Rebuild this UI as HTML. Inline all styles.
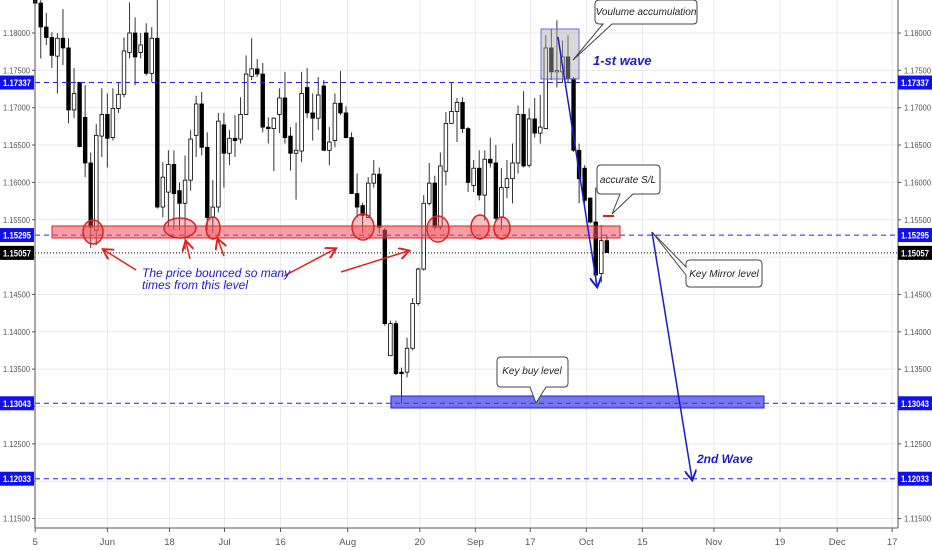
<!DOCTYPE html>
<html><head><meta charset="utf-8">
<style>
html,body{margin:0;padding:0;background:#fff;}
svg{display:block;font-family:"Liberation Sans",sans-serif;}
</style></head>
<body>
<svg id="chart" width="932" height="550" viewBox="0 0 932 550" xmlns="http://www.w3.org/2000/svg">
<defs>
<marker id="ab" markerWidth="8" markerHeight="8" refX="6" refY="4" orient="auto"><path d="M0,0 L7,4 L0,8" fill="none" stroke="#1a1ad0" stroke-width="1.3"/></marker>
<marker id="ar" markerWidth="8" markerHeight="8" refX="6" refY="4" orient="auto"><path d="M0,0 L7,4 L0,8" fill="none" stroke="#e02020" stroke-width="1.3"/></marker>
</defs>
<g id="grid"></g>
<g id="candles"></g>
<g id="annot"></g>
<g id="axes"></g>
</svg>
<script>
const opens=[1.1850,1.1840,1.1808,1.1794,1.1769,1.1793,1.1780,1.1697,1.1734,1.1687,1.1626,1.1536,1.1662,1.1691,1.1660,1.1699,1.1718,1.1774,1.1800,1.1774,1.1800,1.1746,1.1793,1.1567,1.1587,1.1624,1.1589,1.1572,1.1603,1.1663,1.1705,1.1647,1.1553,1.1567,1.1677,1.1639,1.1659,1.1658,1.1691,1.1742,1.1752,1.1745,1.1674,1.1672,1.1691,1.1713,1.1662,1.1639,1.1642,1.1727,1.1693,1.1686,1.1729,1.1643,1.1656,1.1706,1.1693,1.1660,1.1585,1.1569,1.1553,1.1599,1.1611,1.1536,1.1368,1.1411,1.1346,1.1346,1.1378,1.1438,1.1484,1.1572,1.1599,1.1540,1.1615,1.1679,1.1695,1.1707,1.1672,1.1596,1.1619,1.1583,1.1631,1.1626,1.1553,1.1593,1.1605,1.1626,1.1691,1.1623,1.1685,1.1666,1.1672,1.1780,1.1748,1.1748,1.1768,1.1739,1.1643,1.1619,1.1579,1.1547,1.1478,1.1522];
const highs=[1.1855,1.1844,1.1827,1.1801,1.1800,1.1832,1.1793,1.1753,1.1734,1.1730,1.1640,1.1678,1.1726,1.1719,1.1726,1.1734,1.1794,1.1841,1.1821,1.1800,1.1813,1.1808,1.1855,1.1627,1.1643,1.1643,1.1600,1.1636,1.1670,1.1716,1.1721,1.1667,1.1603,1.1693,1.1693,1.1670,1.1690,1.1714,1.1770,1.1793,1.1765,1.1760,1.1687,1.1687,1.1726,1.1748,1.1674,1.1680,1.1748,1.1753,1.1719,1.1741,1.1737,1.1674,1.1719,1.1749,1.1702,1.1667,1.1612,1.1573,1.1607,1.1630,1.1620,1.1539,1.1415,1.1415,1.1352,1.1392,1.1445,1.1486,1.1583,1.1626,1.1609,1.1640,1.1694,1.1734,1.1713,1.1714,1.1674,1.1630,1.1643,1.1643,1.1660,1.1650,1.1619,1.1630,1.1652,1.1703,1.1722,1.1699,1.1713,1.1717,1.1797,1.1805,1.1817,1.1790,1.1797,1.1741,1.1652,1.1623,1.1580,1.1593,1.1543,1.1529];
const lows=[1.1838,1.1766,1.1784,1.1753,1.1719,1.1757,1.1679,1.1686,1.1647,1.1607,1.1512,1.1516,1.1634,1.1620,1.1656,1.1693,1.1714,1.1766,1.1730,1.1766,1.1743,1.1734,1.1565,1.1553,1.1540,1.1536,1.1536,1.1510,1.1589,1.1634,1.1636,1.1536,1.1532,1.1560,1.1593,1.1623,1.1634,1.1652,1.1690,1.1737,1.1741,1.1667,1.1652,1.1615,1.1666,1.1652,1.1616,1.1577,1.1627,1.1686,1.1656,1.1670,1.1642,1.1623,1.1647,1.1690,1.1659,1.1585,1.1553,1.1532,1.1553,1.1593,1.1532,1.1408,1.1368,1.1342,1.1304,1.1339,1.1375,1.1435,1.1482,1.1569,1.1536,1.1536,1.1596,1.1679,1.1654,1.1666,1.1587,1.1587,1.1576,1.1549,1.1620,1.1549,1.1536,1.1579,1.1572,1.1612,1.1620,1.1620,1.1660,1.1652,1.1671,1.1737,1.1727,1.1733,1.1733,1.1641,1.1572,1.1572,1.1545,1.1466,1.1466,1.1506];
const closes=[1.1840,1.1808,1.1794,1.1770,1.1793,1.1780,1.1697,1.1719,1.1648,1.1626,1.1540,1.1663,1.1691,1.1659,1.1699,1.1718,1.1776,1.1800,1.1768,1.1784,1.1746,1.1793,1.1567,1.1607,1.1624,1.1585,1.1572,1.1603,1.1658,1.1705,1.1647,1.1553,1.1567,1.1682,1.1639,1.1659,1.1656,1.1691,1.1745,1.1752,1.1745,1.1674,1.1672,1.1686,1.1713,1.1660,1.1639,1.1643,1.1719,1.1693,1.1686,1.1717,1.1643,1.1654,1.1706,1.1693,1.1660,1.1585,1.1567,1.1556,1.1599,1.1611,1.1540,1.1411,1.1411,1.1344,1.1344,1.1378,1.1438,1.1484,1.1572,1.1599,1.1540,1.1622,1.1679,1.1695,1.1707,1.1672,1.1600,1.1619,1.1583,1.1631,1.1626,1.1552,1.1593,1.1605,1.1626,1.1691,1.1622,1.1685,1.1666,1.1674,1.1780,1.1748,1.1750,1.1768,1.1739,1.1643,1.1605,1.1576,1.1547,1.1476,1.1522,1.1506];
const priceTicks=[1.18,1.175,1.17,1.165,1.16,1.155,1.15,1.145,1.14,1.135,1.13,1.125,1.12,1.115];
const dateLabels=["5","Jun","18","Jul","16","Aug","20","Sep","17","Oct","15","Nov","19","Dec","17"];
const dateIndex=[0,13,24.2,34.1,44.2,56.3,69.3,79.3,89.2,99.3,109.4,122.3,134.2,144.5,154.4];
const levels=[1.17337,1.15295,1.13043,1.12033];
const lastPrice=1.15057;

const NS="http://www.w3.org/2000/svg";
const L=35,R=898,B=528;
function yS(p){return 33+(1.18-p)*7470;}
function xS(i){return 35.2+i*5.55;}
function mk(parent,tag,attrs,text){const e=document.createElementNS(NS,tag);for(const k in attrs)e.setAttribute(k,attrs[k]);if(text!==undefined)e.textContent=text;parent.appendChild(e);return e;}
const grid=document.getElementById('grid'),cg=document.getElementById('candles'),an=document.getElementById('annot'),ax=document.getElementById('axes');

priceTicks.forEach(p=>{
  const l=mk(grid,'line',{x1:L,x2:R,y1:yS(p),y2:yS(p),stroke:'#e8eaee','stroke-width':1});
  
  
  mk(ax,'line',{x1:L-3,x2:L,y1:yS(p),y2:yS(p),stroke:'#555'});
  mk(ax,'line',{x1:R,x2:R+3,y1:yS(p),y2:yS(p),stroke:'#555'});
  [3,904].forEach(x=>{
    const t=mk(ax,'text',{x:x,y:yS(p)+3,'font-size':8.5,fill:'#555',textLength:27,lengthAdjust:'spacingAndGlyphs'},p.toFixed(5));
    
    
  });
});
dateLabels.forEach((d,k)=>{
  const x=xS(dateIndex[k]);
  const l=mk(grid,'line',{x1:x,x2:x,y1:0,y2:B,stroke:'#e8eaee','stroke-width':1});
  
  
  mk(ax,'line',{x1:x,x2:x,y1:B,y2:B+4,stroke:'#555'});
  const t=mk(ax,'text',{x:x,y:545,'font-size':9.5,fill:'#555','text-anchor':'middle'},d);
  
  
});

opens.forEach((o,i)=>{
  const c=closes[i],x=xS(i),up=c>=o;
  const g=mk(cg,'g',{});
  
  
  mk(g,'line',{x1:x,x2:x,y1:yS(highs[i]),y2:yS(lows[i]),stroke:'#333','stroke-width':1});
  const top=yS(Math.max(o,c)),bot=yS(Math.min(o,c));
  mk(g,'rect',{x:x-1.8,y:top,width:3.6,height:Math.max(1,bot-top),fill:up?'#fff':'#000',stroke:'#000','stroke-width':0.8});
});

levels.forEach(p=>{
  const l=mk(an,'line',{x1:L,x2:R,y1:yS(p),y2:yS(p),stroke:'#2222dd','stroke-width':1,'stroke-dasharray':'5,4'});
  
  
});
const lp=mk(an,'line',{x1:L,x2:R,y1:yS(lastPrice),y2:yS(lastPrice),stroke:'#000','stroke-width':1,'stroke-dasharray':'1,2'});



mk(ax,'line',{x1:L,x2:L,y1:0,y2:B,stroke:'#555'});
mk(ax,'line',{x1:R,x2:R,y1:0,y2:B,stroke:'#555'});
mk(ax,'line',{x1:L,x2:R,y1:B,y2:B,stroke:'#555'});
function badge(p,bg,name){
  [0,898].forEach(x=>{
    const g=mk(ax,'g',{});
    
    
    mk(g,'rect',{x:x,y:yS(p)-7,width:34,height:14,fill:bg});
    mk(g,'text',{x:x+3,y:yS(p)+3.5,'font-size':9,'font-weight':'bold',fill:'#fff',textLength:28,lengthAdjust:'spacingAndGlyphs'},p.toFixed(5));
  });
}
levels.forEach(p=>badge(p,'#1010ee','level-price-badge'));
badge(lastPrice,'#000','last-price-badge');
</script>
<script>
(function(){
const an=document.getElementById('annot');
an.insertAdjacentHTML('beforeend',`
<rect x="52" y="226" width="568" height="12" fill="rgba(240,80,90,0.55)" stroke="#e02020" stroke-width="1"/>
<g fill="rgba(240,80,90,0.35)" stroke="#e02020" stroke-width="1.5">
<ellipse cx="93" cy="232" rx="10" ry="12"/><ellipse cx="180" cy="228" rx="16" ry="10"/><ellipse cx="213" cy="228" rx="7" ry="11"/>
<ellipse cx="363" cy="227" rx="11" ry="13"/><ellipse cx="438" cy="229" rx="11" ry="13"/><ellipse cx="480" cy="227" rx="9" ry="12"/><ellipse cx="502" cy="228" rx="8" ry="11"/>
</g>
<g stroke="#e02020" stroke-width="1.5" fill="none">
<line x1="136" y1="270" x2="104" y2="250" marker-end="url(#ar)"/>
<line x1="190" y1="259" x2="186" y2="242" marker-end="url(#ar)"/>
<line x1="224" y1="256" x2="218" y2="240" marker-end="url(#ar)"/>
<line x1="284" y1="276" x2="335" y2="249" marker-end="url(#ar)"/>
<line x1="341" y1="272" x2="408" y2="251" marker-end="url(#ar)"/>
</g>
<text x="142" y="277" font-size="12" font-style="italic" fill="#1a1ad0">The price bounced so many</text>
<text x="142" y="289" font-size="12" font-style="italic" fill="#1a1ad0">times from this level</text>
<rect x="391" y="396" width="373" height="12" fill="rgba(60,60,230,0.7)" stroke="#2222dd" stroke-width="1"/>
<rect x="541" y="29" width="38" height="50" fill="rgba(170,170,170,0.45)" stroke="#6a6ae0" stroke-width="1"/>
<line x1="558" y1="37" x2="597" y2="286" stroke="#1a1ad0" stroke-width="1.5" marker-end="url(#ab)"/>
<text x="593" y="65" font-size="13" font-style="italic" font-weight="bold" fill="#1a1ad0">1-st wave</text>
<line x1="652" y1="232" x2="692" y2="479" stroke="#1a1ad0" stroke-width="1.5" marker-end="url(#ab)"/>
<text x="697" y="463" font-size="12" font-style="italic" font-weight="bold" fill="#1a1ad0">2nd Wave</text>
<line x1="603" y1="216" x2="614" y2="216" stroke="#e02020" stroke-width="2"/>
<g>
<path d="M600,0 H693 Q697,0 697,4 V20 Q697,24 693,24 H612 L573,60 L603,24 H600 Q595,24 595,20 V4 Q595,0 600,0 Z" fill="#fff" stroke="#444" stroke-width="1"/>
<text x="646" y="15" font-size="10" font-style="italic" fill="#222" text-anchor="middle">Voulume accumulation</text></g>
<g>
<path d="M601,165 H656 Q660,165 660,169 V190 Q660,194 656,194 H633 L612,214 L620,194 H601 Q597,194 597,190 V169 Q597,165 601,165 Z" fill="#fff" stroke="#444" stroke-width="1"/>
<text x="628" y="183" font-size="10" font-style="italic" fill="#222" text-anchor="middle">accurate S/L</text></g>
<g>
<path d="M690,260 H758 Q762,260 762,264 V283 Q762,287 758,287 H690 Q686,287 686,283 V275 L652,232 L686,267 V264 Q686,260 690,260 Z" fill="#fff" stroke="#444" stroke-width="1"/>
<text x="724" y="277" font-size="10" font-style="italic" fill="#222" text-anchor="middle">Key Mirror level</text></g>
<g>
<path d="M501,357 H564 Q568,357 568,361 V383 Q568,387 564,387 H546 L536,403 L530,387 H501 Q497,387 497,383 V361 Q497,357 501,357 Z" fill="#fff" stroke="#444" stroke-width="1"/>
<text x="532" y="374" font-size="10" font-style="italic" fill="#222" text-anchor="middle">Key buy level</text></g>
`);
})();
</script>
</body></html>
